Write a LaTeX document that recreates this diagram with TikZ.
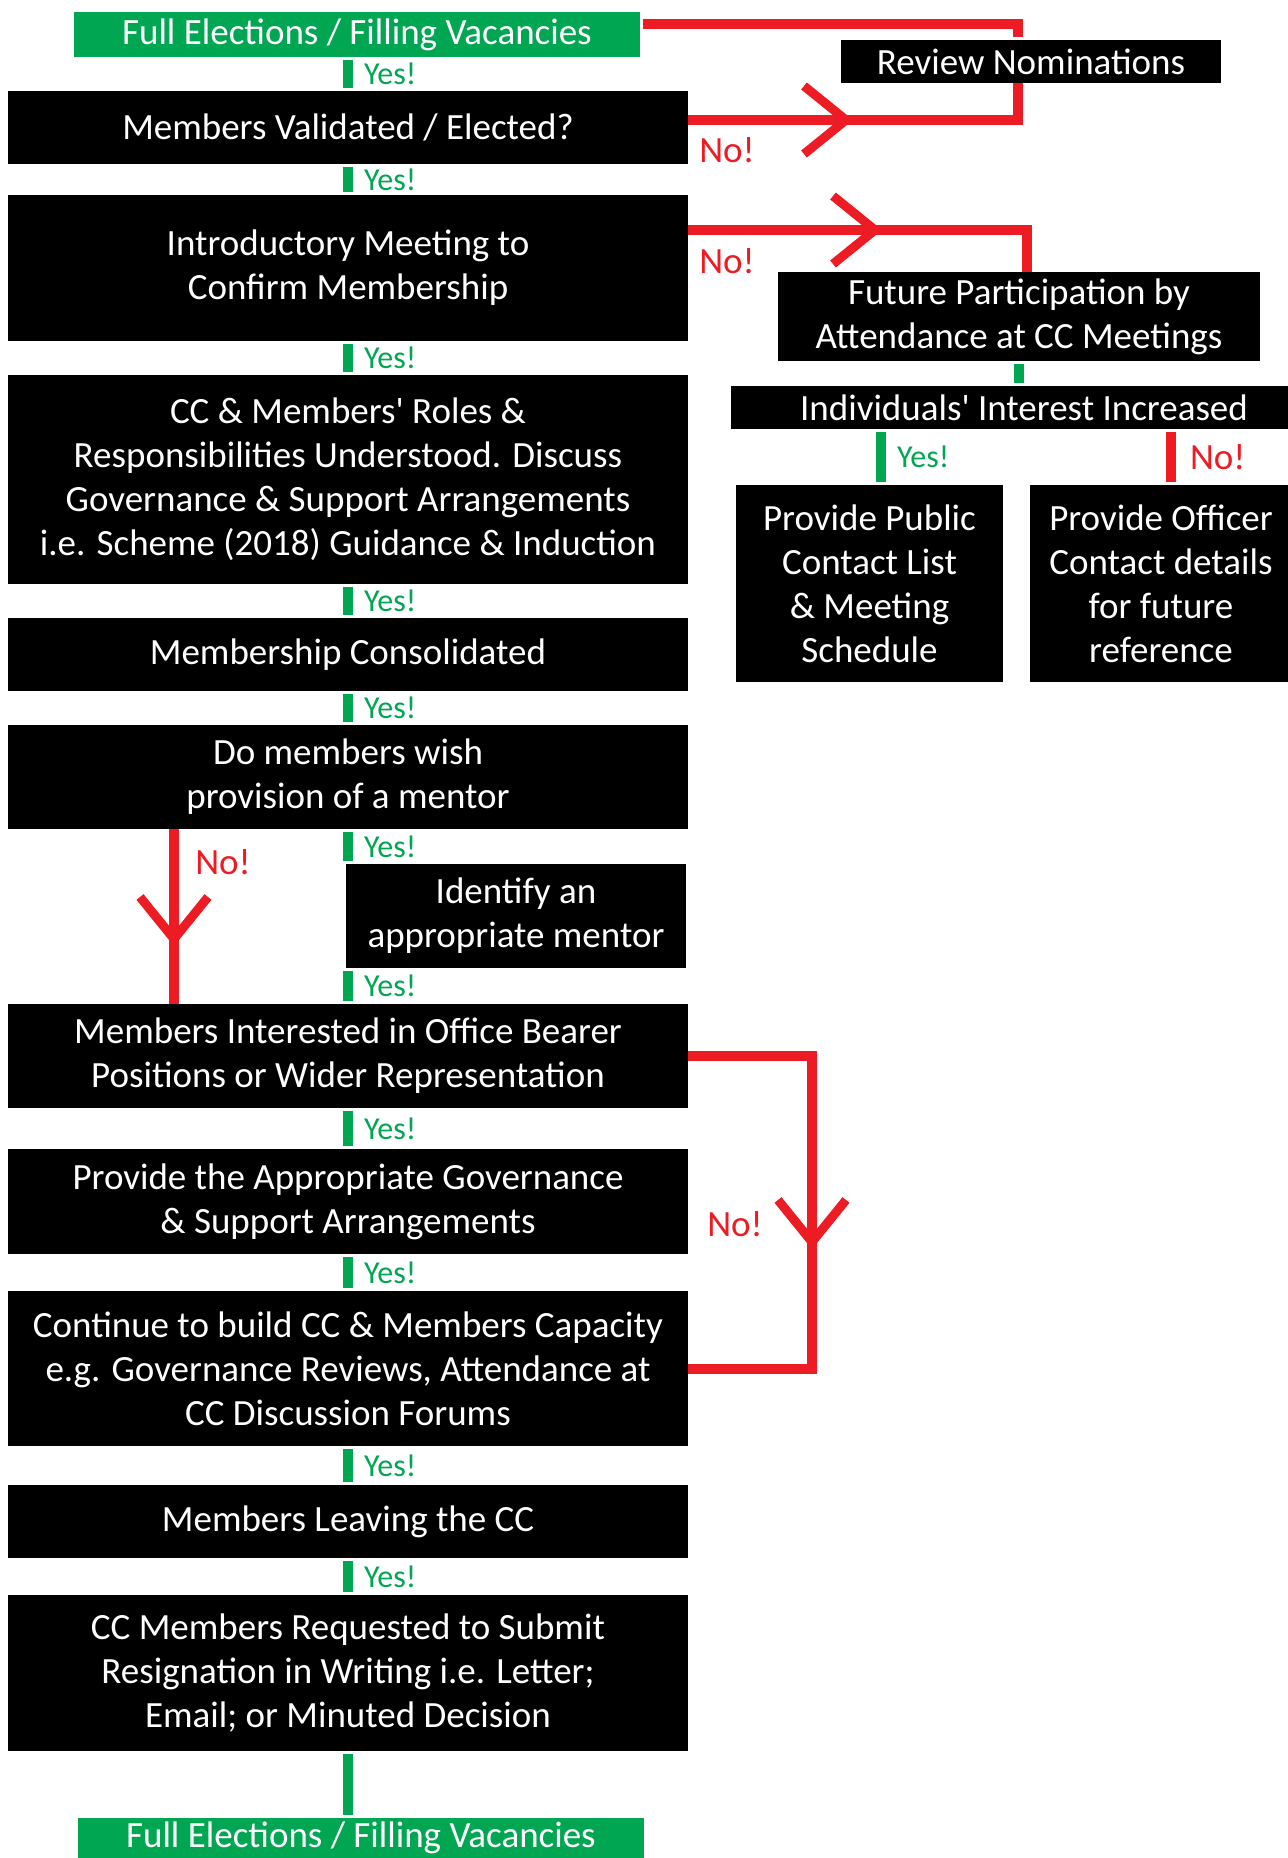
\documentclass[tikz,border=0pt]{standalone}
\usepackage{fontspec}
\setmainfont{Carlito}
\usetikzlibrary{positioning}
\usetikzlibrary{decorations.markings}
\definecolor{flowgreen}{RGB}{0,166,81}
\definecolor{flowred}{RGB}{237,28,36}
\tikzset{%
  box/.style = {rectangle,fill=black,text=white,align=center,
        inner sep=0pt,outer sep=0pt,minimum width=340pt,
        font=\fontsize{18.5}{22}\selectfont},
  greenbox/.style = {box,fill=flowgreen,minimum width=283pt,
        minimum height=22.5pt},
  yesbar/.style = {flowgreen,line width=5pt,shorten <=1.5pt,
        shorten >=1.5pt},
  nobar/.style = {yesbar,flowred},
  noline/.style = {flowred,line width=5pt},
  yeslabel/.style = {text=flowgreen,inner sep=0pt,anchor=west,
        xshift=5.5pt,font=\fontsize{16}{19}\selectfont},
  nolabel/.style = {text=flowred,inner sep=0pt,
        font=\fontsize{18.5}{22}\selectfont},
  chevron/.style = {postaction={decorate,decoration={markings,
        mark=at position #1 with {\draw[flowred,line width=4.5pt]
        (-21pt,17pt) -- (0,0) -- (-21pt,-17pt);}}}}
}

\begin{document}
\begin{tikzpicture}[x=0.5pt,y=-0.5pt,node distance=17pt]
    \useasboundingbox (0,0) rectangle (1287,1858);

    % main column
    \node[box,minimum height=36.5pt] (validated) at (348,127.5) {Members Validated / Elected?};
    \node[greenbox] (topgreen) [above=of validated,xshift=4.5pt] {Full Elections / Filling Vacancies};
    \node[box,minimum height=73pt] (intro) [below=15.5pt of validated] {Introductory Meeting to\\Confirm Membership};
    \node[box,minimum height=104.5pt] (roles) [below=of intro] {CC \& Members\textquotesingle\ Roles \&\\Responsibilities Understood. Discuss\\Governance \& Support Arrangements\\i.e. Scheme (2018) Guidance \& Induction};
    \node[box,minimum height=36.5pt] (consolidated) [below=of roles] {Membership Consolidated};
    \node[box,minimum height=52pt] (mentorq) [below=of consolidated] {Do members wish\\provision of a mentor};
    \node[box,minimum width=170pt,minimum height=52pt,anchor=north west] (identify)
        at ([shift={(-1pt,-17.5pt)}]mentorq.south) {Identify an\\appropriate mentor};
    \node[box,minimum height=52pt] (interested) [below=87.5pt of mentorq] {Members Interested in Office Bearer\\Positions or Wider Representation};
    \node[box,minimum height=52.5pt] (govern) [below=20.5pt of interested] {Provide the Appropriate Governance\\\& Support Arrangements};
    \node[box,minimum height=77.5pt] (capacity) [below=18.5pt of govern] {Continue to build CC \& Members Capacity\\e.g. Governance Reviews, Attendance at\\CC Discussion Forums};
    \node[box,minimum height=36.5pt] (leaving) [below=19.5pt of capacity] {Members Leaving the CC};
    \node[box,minimum height=78pt] (resign) [below=18.5pt of leaving] {CC Members Requested to Submit\\Resignation in Writing i.e. Letter;\\Email; or Minuted Decision};
    \node[greenbox,minimum height=20pt] (bottomgreen) [below=33.5pt of resign,xshift=6.5pt] {Full Elections / Filling Vacancies};

    % right column
    \node[box,minimum width=190pt,minimum height=21.5pt] (review) at (1031,61.5) {Review Nominations};
    \node[box,minimum width=241pt,minimum height=44.5pt] (future) at (1019,316.5) {Future Participation by\\Attendance at CC Meetings};
    \node[box,minimum width=293pt,minimum height=21.5pt] (interest) [below=12.5pt of future,xshift=2.5pt] {Individuals\textquotesingle\ Interest Increased};
    \node[box,minimum width=133.5pt,minimum height=98.5pt] (public) at (869.5,583.5) {Provide Public\\Contact List\\\& Meeting\\Schedule};
    \node[box,minimum width=131pt,minimum height=98.5pt] (officer) [right=13.5pt of public] {Provide Officer\\Contact details\\for future\\reference};
    \coordinate (pubtop) at ([xshift=5.75pt]public.north);
    \coordinate (offtop) at ([xshift=5pt]officer.north);

    % yes bars
    \draw[yesbar] (topgreen.south -| validated.north) -- (validated.north) node[midway,yeslabel] {Yes!};
    \draw[yesbar] (validated) -- (intro) node[midway,yeslabel] {Yes!};
    \draw[yesbar] (intro) -- (roles) node[midway,yeslabel] {Yes!};
    \draw[yesbar] (roles) -- (consolidated) node[midway,yeslabel] {Yes!};
    \draw[yesbar] (consolidated) -- (mentorq) node[midway,yeslabel] {Yes!};
    \draw[yesbar] (mentorq.south) -- (mentorq.south |- identify.north) node[midway,yeslabel] {Yes!};
    \draw[yesbar] (identify.south -| interested.north) -- (interested.north) node[midway,yeslabel] {Yes!};
    \draw[yesbar] (interested) -- (govern) node[midway,yeslabel] {Yes!};
    \draw[yesbar] (govern) -- (capacity) node[midway,yeslabel] {Yes!};
    \draw[yesbar] (capacity) -- (leaving) node[midway,yeslabel] {Yes!};
    \draw[yesbar] (leaving) -- (resign) node[midway,yeslabel] {Yes!};
    \draw[yesbar] (resign.south) -- (resign.south |- bottomgreen.north);
    \draw[yesbar] (future.south) -- (future.south |- interest.north);
    \draw[yesbar] (pubtop |- interest.south) -- (pubtop) node[midway,yeslabel] {Yes!};
    \draw[nobar] (offtop |- interest.south) -- (offtop) node[midway,nolabel,anchor=west,xshift=7pt] {No!};

    % no lines
    \draw[noline,shorten <=1.5pt,shorten >=1.5pt] ([yshift=5.25pt]topgreen.east) -| ([xshift=-6.5pt]review.north);
    \draw[noline,chevron=79pt] ([yshift=3.75pt]validated.east) -| ([xshift=-6.5pt]review.south);
    \node[nolabel] (novalid) at ([shift={(19.5pt,-11.25pt)}]validated.east) {No!};
    \draw[noline,chevron=93.5pt] ([yshift=19pt]intro.east) -| ([xshift=4pt]future.north);
    \node[nolabel] (nointro) at ([shift={(19.5pt,3.5pt)}]intro.east) {No!};
    \draw[noline,chevron=55pt] ([xshift=-87pt]mentorq.south) -- ([xshift=-87pt]interested.north);
    \node[nolabel] (nomentor) at ([shift={(-62.5pt,-16.5pt)}]mentorq.south) {No!};
    \draw[noline,chevron=155pt] (interested.east) -- ++(62pt,0) |- (capacity.east);
    \node[nolabel] (nooffice) at ([shift={(23.5pt,-11.25pt)}]govern.east) {No!};
\end{tikzpicture}
\end{document}
